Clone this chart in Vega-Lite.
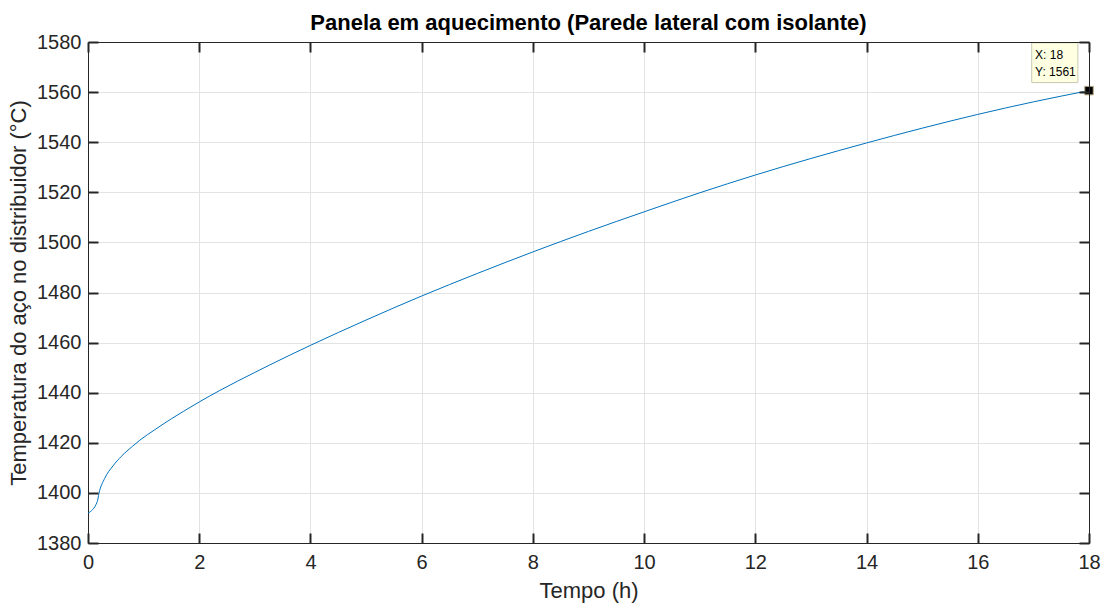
{
  "$schema": "https://vega.github.io/schema/vega-lite/v6.json",
  "autosize": {"type": "none"},
  "padding": {"left": 88, "top": 42, "right": 15, "bottom": 63},
  "width": 1001,
  "height": 501,
  "background": "#ffffff",
  "title": {
    "text": "Panela em aquecimento (Parede lateral com isolante)",
    "font": "Liberation Sans",
    "fontSize": 22,
    "fontWeight": "bold",
    "color": "#000000",
    "anchor": "middle",
    "offset": -3
  },
  "config": {
    "view": {"stroke": null},
    "axis": {
      "labelFont": "Liberation Sans",
      "titleFont": "Liberation Sans",
      "labelFontSize": 20,
      "titleFontSize": 22,
      "titleFontWeight": "normal",
      "labelColor": "#262626",
      "titleColor": "#262626",
      "domainColor": "#262626",
      "tickColor": "#262626",
      "domainWidth": 1,
      "tickWidth": 2,
      "gridColor": "#e3e3e3",
      "gridWidth": 1
    }
  },
  "datasets": {
    "curve": [
      {"t": 0, "T": 1391.9},
      {"t": 0.167, "T": 1396.5},
      {"t": 0.197, "T": 1399.8},
      {"t": 0.3, "T": 1405.8},
      {"t": 0.45, "T": 1410.8},
      {"t": 0.6, "T": 1414.6},
      {"t": 0.8, "T": 1418.6},
      {"t": 0.93, "T": 1421.0},
      {"t": 1.2, "T": 1425.2},
      {"t": 1.5, "T": 1429.6},
      {"t": 1.72, "T": 1432.6},
      {"t": 2.0, "T": 1436.3},
      {"t": 2.37, "T": 1440.9},
      {"t": 3.0, "T": 1448.1},
      {"t": 3.27, "T": 1451.1},
      {"t": 4, "T": 1458.9},
      {"t": 5, "T": 1469.0},
      {"t": 6, "T": 1478.6},
      {"t": 7, "T": 1487.6},
      {"t": 8, "T": 1496.2},
      {"t": 9, "T": 1504.4},
      {"t": 10, "T": 1512.2},
      {"t": 11, "T": 1519.8},
      {"t": 12, "T": 1526.9},
      {"t": 13, "T": 1533.5},
      {"t": 14, "T": 1539.7},
      {"t": 15, "T": 1545.6},
      {"t": 16, "T": 1551.1},
      {"t": 17, "T": 1556.1},
      {"t": 18, "T": 1560.6}
    ],
    "tip": [{"t": 18, "T": 1560.6}]
  },
  "layer": [
    {
      "data": {"name": "curve"},
      "mark": {"type": "line", "color": "#0072BD", "strokeWidth": 1, "interpolate": "monotone"},
      "encoding": {
        "x": {
          "field": "t", "type": "quantitative",
          "scale": {"domain": [0, 18], "nice": false, "zero": false},
          "axis": {"orient": "bottom", "title": "Tempo (h)", "values": [0,2,4,6,8,10,12,14,16,18], "ticks": false, "tickSize": 0, "labelPadding": 9, "titlePadding": 8, "grid": true, "labelFlush": false}
        },
        "y": {
          "field": "T", "type": "quantitative",
          "scale": {"domain": [1380, 1580], "nice": false, "zero": false},
          "axis": {"orient": "left", "title": "Temperatura do aço no distribuidor (°C)", "format": "d", "values": [1380,1400,1420,1440,1460,1480,1500,1520,1540,1560,1580], "ticks": false, "tickSize": 0, "labelPadding": 7, "titlePadding": 6, "grid": true, "labelFlush": false}
        }
      }
    },
    {
      "data": {"name": "curve"},
      "mark": {"type": "line", "opacity": 0},
      "encoding": {
        "x": {
          "field": "t", "type": "quantitative",
          "axis": {"orient": "top", "title": null, "labels": false, "ticks": false, "grid": false, "zindex": 1}
        },
        "y": {
          "field": "T", "type": "quantitative",
          "axis": {"orient": "right", "title": null, "labels": false, "ticks": false, "grid": false, "zindex": 1}
        }
      }
    },
    {
      "data": {"name": "curve"},
      "mark": {"type": "line", "opacity": 0},
      "encoding": {
        "x": {
          "field": "t", "type": "quantitative",
          "axis": {"orient": "top", "offset": -501, "title": null, "labels": false, "domain": false, "ticks": true, "tickSize": 10, "values": [0,2,4,6,8,10,12,14,16,18], "grid": false, "zindex": 1}
        },
        "y": {
          "field": "T", "type": "quantitative",
          "axis": {"orient": "right", "offset": -1001, "title": null, "labels": false, "domain": false, "ticks": true, "tickSize": 10, "values": [1380,1400,1420,1440,1460,1480,1500,1520,1540,1560,1580], "grid": false, "zindex": 1}
        }
      }
    },
    {
      "data": {"name": "curve"},
      "mark": {"type": "line", "opacity": 0},
      "encoding": {
        "x": {
          "field": "t", "type": "quantitative",
          "axis": {"orient": "bottom", "offset": -501, "title": null, "labels": false, "domain": false, "ticks": true, "tickSize": 10, "values": [0,2,4,6,8,10,12,14,16,18], "grid": false, "zindex": 1}
        },
        "y": {
          "field": "T", "type": "quantitative",
          "axis": {"orient": "left", "offset": -1001, "title": null, "labels": false, "domain": false, "ticks": true, "tickSize": 10, "values": [1380,1400,1420,1440,1460,1480,1500,1520,1540,1560,1580], "grid": false, "zindex": 1}
        }
      }
    },
    {
      "data": {"name": "tip"},
      "mark": {"type": "rect", "fill": "#ffffe1", "stroke": "#c8c8b4", "strokeWidth": 1},
      "encoding": {
        "x": {"datum": 16.97, "type": "quantitative", "axis": null},
        "x2": {"datum": 17.8},
        "y": {"datum": 1579.7, "type": "quantitative", "axis": null},
        "y2": {"datum": 1563.8}
      }
    },
    {
      "data": {"name": "tip"},
      "mark": {"type": "text", "text": "X: 18", "font": "Liberation Sans", "fontSize": 12, "color": "#000000", "align": "left", "baseline": "alphabetic"},
      "encoding": {
        "x": {"datum": 17.03, "type": "quantitative", "axis": null},
        "y": {"datum": 1573.1, "type": "quantitative", "axis": null}
      }
    },
    {
      "data": {"name": "tip"},
      "mark": {"type": "text", "text": "Y: 1561", "font": "Liberation Sans", "fontSize": 12, "color": "#000000", "align": "left", "baseline": "alphabetic"},
      "encoding": {
        "x": {"datum": 17.03, "type": "quantitative", "axis": null},
        "y": {"datum": 1566.4, "type": "quantitative", "axis": null}
      }
    },
    {
      "data": {"name": "tip"},
      "mark": {"type": "point", "shape": "square", "filled": true, "size": 72, "fill": "#000000", "stroke": "#b4aa82", "strokeWidth": 1, "opacity": 1},
      "encoding": {
        "x": {"field": "t", "type": "quantitative", "axis": null},
        "y": {"field": "T", "type": "quantitative", "axis": null}
      }
    }
  ],
  "resolve": {"axis": {"x": "independent", "y": "independent"}}
}
